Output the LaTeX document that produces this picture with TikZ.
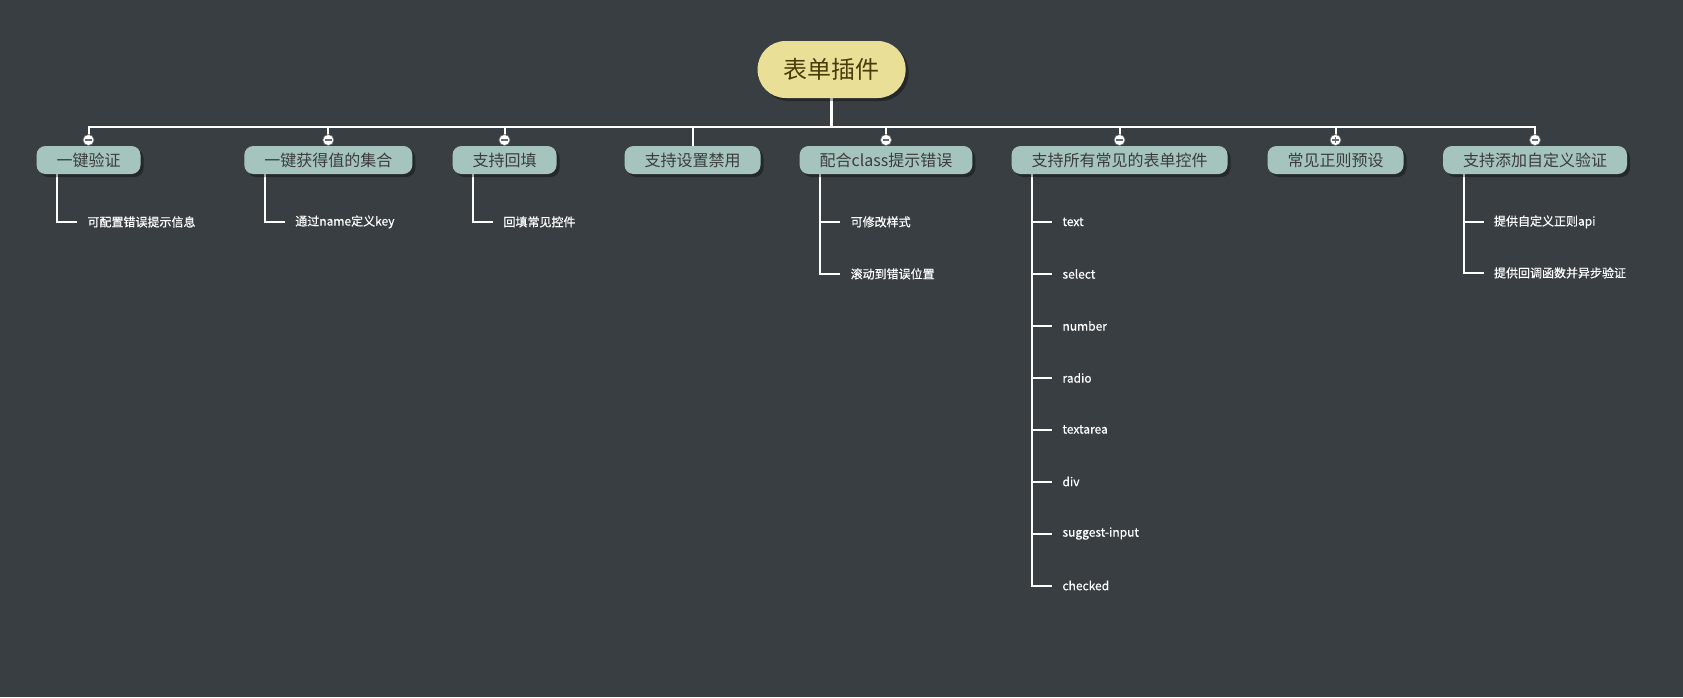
\documentclass[tikz,border=0pt]{standalone}
\usepackage{fontspec}
\setmainfont{Noto Sans CJK SC}
\newfontfamily\leaffont[FakeBold=0.6]{Noto Sans CJK SC}
\usetikzlibrary{shadows,calc}
\pgfdeclarelayer{bgfill}
\pgfdeclarelayer{lines}
\pgfsetlayers{bgfill,lines,main}
\definecolor{bg}{HTML}{383E42}
\definecolor{rootfill}{HTML}{E9DF97}
\definecolor{roottext}{HTML}{4A3C0A}
\definecolor{topicfill}{HTML}{A4C4BD}
\definecolor{topictext}{HTML}{3C3C3C}
\definecolor{togline}{HTML}{6A6E70}
\tikzset{
  conn/.style={draw=white, line width=2pt},
  rootconn/.style={draw=white, line width=2.6pt},
  softshadow/.style={drop shadow={shadow xshift=3pt, shadow yshift=-3pt, fill=black, opacity=0.35}},
  rootbox/.style={fill=rootfill, rounded corners=28pt, minimum width=148pt, minimum height=57pt,
    inner sep=0pt, font=\fontsize{24}{28}\selectfont, text=roottext, softshadow},
  topic/.style={fill=topicfill, rounded corners=9pt, minimum height=28pt, inner xsep=20pt, inner ysep=0pt,
    font=\fontsize{16}{19}\selectfont, text=topictext, softshadow},
  leaf/.style={text=white, font=\leaffont\fontsize{12}{14}\selectfont, inner sep=0pt, anchor=west},
  tog/.style={circle, fill=white, draw=togline, line width=0.6pt, minimum size=11pt, inner sep=0pt},
  togminus/.style={tog, path picture={\draw[togline, line width=1.1pt]
      ([xshift=-3.2pt]path picture bounding box.center) -- ([xshift=3.2pt]path picture bounding box.center);}},
  togplus/.style={tog, path picture={\draw[togline, line width=1.1pt]
      ([xshift=-3.2pt]path picture bounding box.center) -- ([xshift=3.2pt]path picture bounding box.center)
      ([yshift=-3.2pt]path picture bounding box.center) -- ([yshift=3.2pt]path picture bounding box.center);}},
}
\begin{document}
\begin{tikzpicture}[x=1pt, y=-1pt]
\begin{pgfonlayer}{bgfill}
\fill[bg] (0,0) rectangle (1683,697);
\end{pgfonlayer}
\useasboundingbox (0,0) rectangle (1683,697);

% root
\node[rootbox] (root) at (831.6,69.5) {表单插件};
\coordinate (bus) at (0,126.6);

% main topics
\node[topic] (c1) at (88.5,160) {一键验证};
\node[topic] (c2) at (328.3,160) {一键获得值的集合};
\node[topic] (c3) at (504.5,160) {支持回填};
\node[topic] (c4) at (692.5,160) {支持设置禁用};
\node[topic] (c5) at (886,160) {配合class提示错误};
\node[topic] (c6) at (1119.5,160) {支持所有常见的表单控件};
\node[topic] (c7) at (1335.5,160) {常见正则预设};
\node[topic] (c8) at (1535,160) {支持添加自定义验证};

% toggles
\node[togminus] (k1) at (c1.north |- 0,140) {};
\node[togminus] (k2) at (c2.north |- 0,140) {};
\node[togminus] (k3) at (c3.north |- 0,140) {};
\node[togminus] (k5) at (c5.north |- 0,140) {};
\node[togminus] (k6) at (c6.north |- 0,140) {};
\node[togplus]  (k7) at (c7.north |- 0,140) {};
\node[togminus] (k8) at (c8.north |- 0,140) {};

% leaves
\node[leaf] (l1a) at ($(c1.south west)+(51,47.7)$) {可配置错误提示信息};
\node[leaf] (l2a) at ($(c2.south west)+(51,47.7)$) {通过name定义key};
\node[leaf] (l3a) at ($(c3.south west)+(51,47.7)$) {回填常见控件};
\node[leaf] (l5a) at ($(c5.south west)+(51,47.7)$) {可修改样式};
\node[leaf] (l5b) at ($(c5.south west)+(51,99.7)$) {滚动到错误位置};
\node[leaf] (l6a) at ($(c6.south west)+(51,47.7)$) {text};
\node[leaf] (l6b) at ($(c6.south west)+(51,99.7)$) {select};
\node[leaf] (l6c) at ($(c6.south west)+(51,151.7)$) {number};
\node[leaf] (l6d) at ($(c6.south west)+(51,203.7)$) {radio};
\node[leaf] (l6e) at ($(c6.south west)+(51,255.3)$) {textarea};
\node[leaf] (l6f) at ($(c6.south west)+(51,307.3)$) {div};
\node[leaf] (l6g) at ($(c6.south west)+(51,359.3)$) {suggest-input};
\node[leaf] (l6h) at ($(c6.south west)+(51,411.3)$) {checked};
\node[leaf] (l8a) at ($(c8.south west)+(51,47.7)$) {提供自定义正则api};
\node[leaf] (l8b) at ($(c8.south west)+(51,98.7)$) {提供回调函数并异步验证};

% connectors, drawn on a layer beneath the nodes
\begin{pgfonlayer}{lines}
\draw[rootconn] (root.south) -- (root.south |- bus);
\foreach \k in {k1,k2,k3,k5,k6,k7,k8}{
  \draw[conn] (root.south |- bus) -| (\k.center);
}
\draw[conn] (root.south |- bus) -| (c4.north);
\foreach \c/\l in {c1/l1a,c2/l2a,c3/l3a,c5/l5a,c5/l5b,c6/l6a,c6/l6b,c6/l6c,c6/l6d,c6/l6e,c6/l6f,c6/l6g,c6/l6h,c8/l8a,c8/l8b}{
  \draw[conn] ($(\c.south west)+(21,0)$) |- ([xshift=-10pt]\l.west);
}
\end{pgfonlayer}
\end{tikzpicture}
\end{document}
